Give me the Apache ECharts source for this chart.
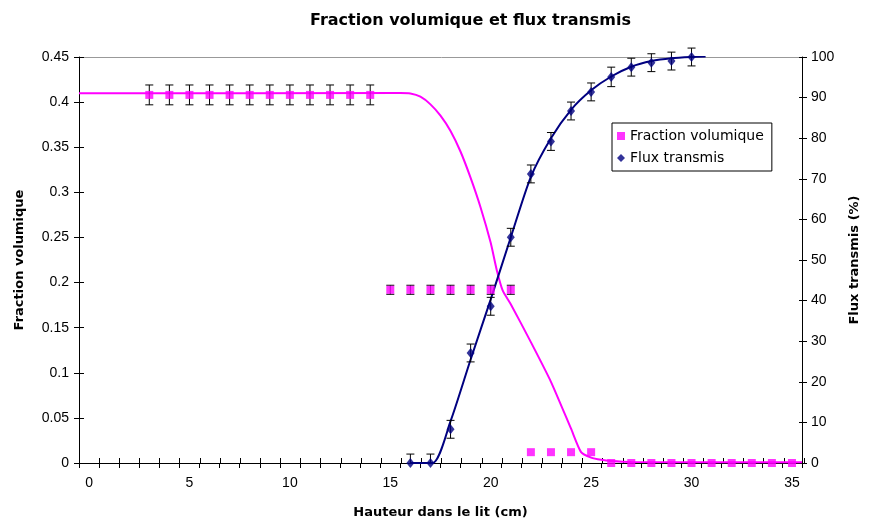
<!DOCTYPE html>
<html><head><meta charset="utf-8">
<script src="https://cdn.jsdelivr.net/npm/echarts@6/dist/echarts.min.js"></script>
<style>html,body{margin:0;padding:0;background:#fff}#c{width:869px;height:527px}</style>
</head><body><div id="c"></div>
<script>
// ---- data ----
const fracX   = [3,4,5,6,7,8,9,10,11,12,13,14,15,16,17,18,19,20,21,22,23,24,25,26,27,28,29,30,31,32,33,34,35];
const fracY   = [0.408,0.408,0.408,0.408,0.408,0.408,0.408,0.408,0.408,0.408,0.408,0.408,
                 0.192,0.192,0.192,0.192,0.192,0.192,0.192,
                 0.012,0.012,0.012,0.012,
                 0,0,0,0,0,0,0,0,0,0];
const fracErr = [0.011,0.011,0.011,0.011,0.011,0.011,0.011,0.011,0.011,0.011,0.011,0.011,
                 0.005,0.005,0.005,0.005,0.005,0.005,0.005,
                 0,0,0,0,
                 0,0,0,0,0,0,0,0,0,0];
const fluxX   = [16,17,18,19,20,21,22,23,24,25,26,27,28,29,30];
const fluxY   = [0,0,8.3,27.1,38.6,55.6,71.2,79.2,86.7,91.4,95.1,97.5,98.6,99.0,100];
const fluxErr = [2.2,2.2,2.2,2.2,2.2,2.2,2.2,2.2,2.2,2.2,2.4,2.2,2.2,2.2,2.2];
// model curves
const fracCurveX = [-0.5,15.5,16.0,16.5,17.0,17.5,18.0,18.5,19.0,19.5,20.0,20.3,20.6,21.0,22.0,23.0,24.0,24.5,25.0,25.5,26.0,27.0,35.5];
const fracCurveY = [0.4097,0.4100,0.4095,0.4060,0.3975,0.3850,0.3680,0.3450,0.3160,0.2830,0.2440,0.2140,0.1910,0.1760,0.1340,0.0900,0.0380,0.0120,0.0060,0.0035,0.0022,0.0012,0.0008];
const fluxCurveX = [16,17.1,18,19,20,21,22,23,24,25,26,27,28,29,30,30.7];
const fluxCurveY = [0,0,10.3,25.5,40.3,55.6,70.5,80,87,91.8,95.2,97.6,99,99.7,100,100.1];
// axis ticks / labels
const xLabelValues = [0,5,10,15,20,25,30,35];
const xTickValues = [];
for (let v = -0.5; v <= 35.5; v += 1) xTickValues.push(v);

const FONT = '"Liberation Sans", Arial, sans-serif';
const WIDE = '"DejaVu Sans", sans-serif';
const zip = (a, b) => a.map((v, i) => [v, b[i]]);

function errSeries(name, xs, ys, es, yIdx) {
  return {
    type: 'custom', name: name, yAxisIndex: yIdx, silent: true, z: 3,
    data: xs.map((x, i) => [x, ys[i], es[i]]).filter(d => d[2] > 0),
    renderItem: function (params, api) {
      const x = api.value(0), y = api.value(1), e = api.value(2);
      const lo = Math.max(0, y - e);
      const p1 = api.coord([x, y + e]);
      const p2 = api.coord([x, lo]);
      const w = 4;
      const st = { stroke: '#000', lineWidth: 1 };
      const children = [
        { type: 'line', shape: { x1: p1[0], y1: p1[1], x2: p2[0], y2: p2[1] }, style: st },
        { type: 'line', shape: { x1: p1[0] - w, y1: p1[1], x2: p1[0] + w, y2: p1[1] }, style: st }
      ];
      if (y - e >= 0) children.push({ type: 'line', shape: { x1: p2[0] - w, y1: p2[1], x2: p2[0] + w, y2: p2[1] }, style: st });
      return { type: 'group', children: children };
    }
  };
}

const chart = echarts.init(document.getElementById('c'), null, { renderer: 'canvas' });
const axisLabelStyle = { color: '#000', fontFamily: FONT, fontSize: 14 };
const nameStyle = { color: '#000', fontFamily: WIDE, fontSize: 13, fontWeight: 'bold' };
const gridRect = { left: 79, right: 65, top: 57, bottom: 64 };
const tickLine = { color: '#000', width: 1 };

chart.setOption({
  animation: false,
  backgroundColor: '#fff',
  title: {
    text: 'Fraction volumique et flux transmis',
    left: 305, top: 8,
    textStyle: { color: '#000', fontFamily: WIDE, fontSize: 16, fontWeight: 'bold' }
  },
  legend: {
    orient: 'vertical', left: 612, top: 123,
    itemWidth: 8, itemHeight: 8, itemGap: 8,
    padding: [6, 8, 6, 5],
    borderColor: '#000', borderWidth: 1, backgroundColor: '#fff',
    textStyle: { color: '#000', fontFamily: WIDE, fontSize: 14 },
    data: [
      { name: 'Fraction volumique', icon: 'rect' },
      { name: 'Flux transmis', icon: 'diamond' }
    ]
  },
  grid: [
    Object.assign({ show: false }, gridRect),
    Object.assign({ show: false }, gridRect)
  ],
  xAxis: [
    {
      type: 'value', gridIndex: 0, min: -0.5, max: 35.5, position: 'bottom',
      name: 'Hauteur dans le lit (cm)', nameLocation: 'middle', nameGap: 43, nameTextStyle: nameStyle,
      axisLine: { onZero: false, lineStyle: { color: '#000', width: 1 } },
      axisTick: { show: true, inside: false, length: 5, customValues: xTickValues, lineStyle: tickLine },
      axisLabel: Object.assign({ customValues: xLabelValues, margin: 13 }, axisLabelStyle),
      splitLine: { show: false }
    },
    {
      type: 'value', gridIndex: 1, min: -0.5, max: 35.5, position: 'bottom',
      axisLine: { show: false, onZero: false },
      axisTick: { show: true, inside: true, length: 5, customValues: xTickValues, lineStyle: tickLine },
      axisLabel: { show: false }, splitLine: { show: false }
    },
    {
      type: 'value', gridIndex: 1, min: -0.5, max: 35.5, position: 'top',
      axisLine: { show: true, onZero: false, lineStyle: { color: '#999', width: 1 } },
      axisTick: { show: false }, axisLabel: { show: false }, splitLine: { show: false }
    }
  ],
  yAxis: [
    {
      type: 'value', gridIndex: 0, min: 0, max: 0.45, interval: 0.05, position: 'left',
      name: 'Fraction volumique', nameLocation: 'middle', nameGap: 53, nameRotate: 90, nameTextStyle: nameStyle,
      axisLine: { show: true, onZero: false, lineStyle: { color: '#000' } },
      axisTick: { show: true, length: 5, lineStyle: tickLine },
      axisLabel: Object.assign({ margin: 10, formatter: v => String(+v.toFixed(2)) }, axisLabelStyle),
      splitLine: { show: false }
    },
    {
      type: 'value', gridIndex: 0, min: 0, max: 100, interval: 10, position: 'right',
      name: 'Flux transmis (%)', nameLocation: 'middle', nameGap: 46, nameRotate: 90, nameTextStyle: nameStyle,
      axisLine: { show: true, onZero: false, lineStyle: { color: '#000' } },
      axisTick: { show: true, length: 5, lineStyle: tickLine },
      axisLabel: Object.assign({ margin: 9 }, axisLabelStyle),
      splitLine: { show: false }
    },
    {
      type: 'value', gridIndex: 1, min: 0, max: 0.45, interval: 0.05, position: 'left',
      axisLine: { show: false, onZero: false }, axisLabel: { show: false }, splitLine: { show: false },
      axisTick: { show: true, inside: true, length: 5, lineStyle: tickLine }
    },
    {
      type: 'value', gridIndex: 1, min: 0, max: 100, interval: 10, position: 'right',
      axisLine: { show: false, onZero: false }, axisLabel: { show: false }, splitLine: { show: false },
      axisTick: { show: true, inside: true, length: 5, lineStyle: tickLine }
    }
  ],
  series: [
    {
      name: 'fracModel', type: 'line', xAxisIndex: 0, yAxisIndex: 0, data: zip(fracCurveX, fracCurveY),
      smooth: 0.2, showSymbol: false, silent: true, z: 2,
      lineStyle: { color: '#FF00FF', width: 2 }
    },
    {
      name: 'fluxModel', type: 'line', xAxisIndex: 0, yAxisIndex: 1, data: zip(fluxCurveX, fluxCurveY),
      smooth: 0.25, showSymbol: false, silent: true, z: 2,
      lineStyle: { color: '#000080', width: 2 }
    },
    errSeries('fracErr', fracX, fracY, fracErr, 0),
    errSeries('fluxErr', fluxX, fluxY, fluxErr, 1),
    {
      name: 'Fraction volumique', type: 'scatter', xAxisIndex: 0, yAxisIndex: 0, data: zip(fracX, fracY),
      symbol: 'rect', symbolSize: 8, z: 4, itemStyle: { color: '#FF00FF' }
    },
    {
      name: 'Flux transmis', type: 'scatter', xAxisIndex: 0, yAxisIndex: 1, data: zip(fluxX, fluxY),
      symbol: 'diamond', symbolSize: [8, 10], z: 4, itemStyle: { color: '#000080' }
    }
  ]
});
</script></body></html>
